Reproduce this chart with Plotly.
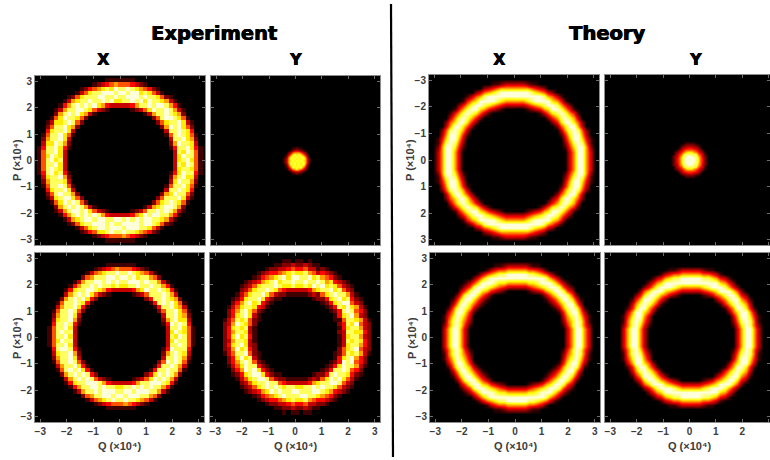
import numpy as np
import plotly.graph_objects as go

# Intensity levels 0-9, cell by cell.
# Ring panels: rows run top to bottom, "start:digits|start:digits" = left half | right half,
# each half listed outward from the centre, starting at cell |i| = start.
exp_x_top = [
"0:1111|0:1111","0:5654321|0:5554321","0:8978765421|0:8898765421","0:98999887531|0:99899787531",
"0:8988998887521|0:8899989887521","0:87989889887631|0:78898979887631","0:333467989898641|0:333468898998641",
"3:1235789988631|3:1235798898631","6:1367989862|6:1368898762","8:257889751|8:258998751",
"9:258987731|9:257889731","10:26798852|10:26989752","11:3798874|11:3889874","11:15798851|11:15898751",
"12:3798862|12:3889762","12:2689773|12:2698873","12:14798841|12:14889741","13:3798851|13:3879851",
"13:3789751|13:3798851","13:3879851|13:3789751","13:3798851|13:3879851","13:3789851|13:3788751",
"12:14879841|12:14798841","12:2698873|12:2689773","12:3788862|12:3798862","11:15898851|11:15889751",
"11:3798874|11:3889874","10:26889852|10:26798852","9:257998731|9:258889731","8:258989751|8:257898751",
"6:1368989862|6:1367899862","3:1235798998631|3:1235889898631","0:333468989898641|0:333467989988641",
"0:89889989987631|0:98989899887631","0:9898999887521|0:8999989987521","0:99989987531|0:98999887531",
"0:8898775421|0:8988765421","0:5554321|0:5654321","0:1111|0:1111",
]
exp_x_bottom = [
"0:1111|0:1111","0:5654321|0:5554321","0:898876531|0:889876531","0:9899888652|0:9989788652",
"0:898989988631|0:889998988631","0:7878898988641|0:7788988988641","0:33346789988741|0:33346798898741",
"3:12357989863|3:12358889863","6:247989862|6:248898762","7:147898851|7:148989751","8:14798863|8:14889763",
"9:25898851|9:25889751","10:3798862|10:3889762","10:2698873|10:2689773","10:1489884|10:1498984",
"11:3798851|11:3889751","11:3889851|11:3798751","11:3798851|11:3879851","11:3889751|11:3798851",
"11:3798851|11:3889851","10:1489984|10:1498884","10:2698873|10:2689873","10:3798862|10:3889862",
"9:25898851|9:25989851","8:14798863|8:14889863","7:147989851|7:148898851","6:248989862|6:247989862",
"3:12358989863|3:12357989863","0:33346899988741|0:33346889998741","0:8788989988641|0:7889898988641",
"0:989998988631|0:899899988631","0:9989988652|0:9899988652","0:889876531|0:898876531",
"0:5554321|0:5654321","0:1111|0:1111",
]
exp_y_bottom = [
"0:1011|0:1101","0:232211|0:223211","0:45433221|0:44533121","0:7876544321|0:7786534321",
"0:89798765421|0:98897865421","0:8988798764321|0:8898898674321","0:78778988875321|0:77879897875321",
"0:33345789887532|0:33346788978532","0:111223579887531|0:111232578988631","4:112479887421|4:122478978421",
"6:1248798642|6:1247899532","7:1347887531|7:1248797631","8:125798642|8:124898542","9:13798742|9:14789632",
"9:125878531|9:115887631","10:25789632|10:24879532","10:13878742|10:14788632","10:13788642|10:23887742",
"10:14879742|10:13788632","10:13788632|10:13878742","10:23798742|10:13788642","10:24879632|10:25789532",
"9:125988531|9:125878631","9:13879742|9:14789642","8:125898642|8:124989542","7:1248897531|7:1247988631",
"6:1247989642|6:1248898542","4:112479987421|4:122489887421","0:111223589987531|0:111232579897531",
"0:33345889887532|0:33346788998532","0:78878989875321|0:77889898875321","0:8988989764321|0:9888998764321",
"0:98898765421|0:89988765421","0:7876544321|0:7786544321","0:45433221|0:44533221","0:232211|0:223211",
"0:1101|0:1011",
]
# Small measured spot, rows centred on the spot.
exp_y_top = [
"11211","1233321","235666532","13578787531","25787878752","1368787878631","1367878787631",
"1368787878631","25878787852","13587878531","235676532","1233321","11211",
]
# Theory panels are symmetric: one quadrant, from the centre outward.
th_x_top = [
"0000000000000369963","0000000000000369963","0000000000000369963","0000000000001479962",
"0000000000002589851","0000000000003699741","000000000001479963","000000000003689852",
"00000000002579963","00000000024799752","0000000024689863","0000001357898641","000123467998641",
"33345678998642","6667899997641","999999986531","9999876532","66665432","333211","","",
]
th_x_bottom = [
"000000000000369963","000000000000369963","000000000000369963","000000000001479852",
"000000000002579851","000000000003689741","00000000001479963","00000000013689851",
"0000000013579963","0000000135799741","000000135799852","00012346799853","33345678998531",
"6667789997531","99999998642","9998876531","66655431","333211","","","",
]
th_y_bottom = [
"00000000000369963","00000000000369963","00000000000369963","00000000001479852",
"00000000002589851","00000000003699741","0000000002579963","0000000014699741",
"000000014689863","000000246899641","00012356899742","3334567999752","666789998642",
"99999997642","9998876431","66655431","333211","","","","",
]
th_y_top = [
"999875421","999875421","998865321","888754310","77654321","55543210","4433210","222110","1110","","",
]

cell_size = [0.16,0.08,0.16,0.16,0.16,0.08,0.16,0.16]
centre_q = [0.0,0.04,0.07,0.08,0.0,0.0,0.05,0.05]
centre_p = [0.0,0.0,0.03,0.03,0.0,0.0,0.0,0.0]
# Pixel boxes of the panels: left, right, top, bottom
boxes = [(35,205,76,245),(211,380,76,245),(35,204,253,422),(210,380,253,422),
         (429,599,75,245),(605,770,75,245),(430,600,253,422),(605,770,253,422)]
q_ranges = [(-3.2,3.2)]*5+[(-3.2,3.05)]+[(-3.2,3.2)]+[(-3.2,3.05)]
p_ranges = [(-3.2,3.2)]*4+[(3.2,-3.2),(3.2,-3.2)]+[(-3.2,3.2)]*2
show_q = [0,0,1,1,0,0,1,1]
show_p = [1,0,1,0,1,0,1,0]
smooth = [False,"best",False,False,"best","best","best","best"]
tick_vals = [-3,-2,-1,0,1,2,3]
W, H = 770, 460
LEVEL_TOP = 9.3
hot = [[0,"#000000"],[0.42,"#ff0000"],[0.78,"#ffff00"],[1,"#ffffff"]]
FONT = "Liberation Sans"
TICK = "#3c3c3c"

def ring_grid(rows, half=20):
    n = 2*half+1
    z = np.zeros((n,n))
    off = (len(rows)-1)//2
    for k,row in enumerate(rows):
        j = off-k
        left,right = row.split("|")
        for part,sign in ((left,-1),(right,1)):
            s,d = part.split(":")
            for m,ch in enumerate(d):
                z[half+j, half+sign*(int(s)+m)] = int(ch)
    return z

def quad_grid(rows):
    half = len(rows)-1
    q = np.zeros((half+1,half+1))
    for j,row in enumerate(rows):
        for i,ch in enumerate(row):
            q[j,i] = int(ch)
    top = np.hstack([q[:,:0:-1],q])
    return np.vstack([top[:0:-1],top])

def spot_grid(rows, half=10):
    n = 2*half+1
    z = np.zeros((n,n))
    off = (len(rows)-1)//2
    for k,row in enumerate(rows):
        j = off-k
        w = (len(row)-1)//2
        for m,ch in enumerate(row):
            z[half+j, half-w+m] = int(ch)
    return z

grids = [ring_grid(exp_x_top),spot_grid(exp_y_top),ring_grid(exp_x_bottom),ring_grid(exp_y_bottom),
         quad_grid(th_x_top),quad_grid(th_y_top),quad_grid(th_x_bottom),quad_grid(th_y_bottom)]

fig = go.Figure()
layout = dict(width=W,height=H,margin=dict(l=0,r=0,t=0,b=0),autosize=False,
              paper_bgcolor="white",plot_bgcolor="black",showlegend=False,font=dict(family=FONT))
for k,z in enumerate(grids):
    half = (z.shape[0]-1)//2
    idx = np.arange(-half,half+1)
    sfx = "" if k==0 else str(k+1)
    fig.add_trace(go.Heatmap(z=z,x=centre_q[k]+cell_size[k]*idx,y=centre_p[k]+cell_size[k]*idx,
                             zmin=0,zmax=LEVEL_TOP,colorscale=hot,showscale=False,zsmooth=smooth[k],
                             xaxis="x"+sfx,yaxis="y"+sfx,hoverinfo="skip"))
    l,r,t,b = boxes[k]
    common = dict(tickmode="array",tickvals=tick_vals,ticks="inside",ticklen=3,tickcolor="#6e6e6e",tickwidth=1,
                  showgrid=False,zeroline=False,showline=True,linecolor="#8c8c8c",linewidth=1,mirror="ticks",
                  tickfont=dict(family=FONT,size=10,color=TICK,weight="bold"))
    layout["xaxis"+sfx] = dict(domain=[l/W,r/W],range=list(q_ranges[k]),anchor="y"+sfx,
                               showticklabels=bool(show_q[k]),**common)
    layout["yaxis"+sfx] = dict(domain=[1-b/H,1-t/H],range=list(p_ranges[k]),anchor="x"+sfx,
                               showticklabels=bool(show_p[k]),**common)
fig.update_layout(**layout)

def text(x,y,s,size,angle=0,bold=True,color="black",family=FONT,shadow=None):
    font = dict(family=family,size=size,color=color,weight="bold" if bold else "normal")
    if shadow:
        font["shadow"] = shadow
    fig.add_annotation(x=x/W,y=1-y/H,xref="paper",yref="paper",text=s,showarrow=False,textangle=angle,
                       xanchor="center",yanchor="middle",font=font)

HEAVY = "DejaVu Sans"
THICK = "0.6px 0 0 black, -0.3px 0 0 black"
text(214,33,"Experiment",19.5,family=HEAVY,shadow=THICK)
text(607,33,"Theory",19.5,family=HEAVY,shadow=THICK)
for x,s in [(104,"X"),(295,"Y"),(499,"X"),(695,"Y")]:
    text(x,59,s,16,family=HEAVY,shadow=THICK)
P_LABEL = "P (×10⁴)"
Q_LABEL = "Q (×10⁴)"
for x,y in [(17,160),(17,338),(410,160),(412,338)]:
    text(x,y,P_LABEL,11,angle=-90,color=TICK)
for x in [119,295,515,689]:
    text(x,446,Q_LABEL,11,color=TICK)
fig.add_shape(type="line",xref="paper",yref="paper",x0=391/W,x1=393/W,y0=1-4/H,y1=1-457/H,
              line=dict(color="black",width=2.2))

fig.write_html("out.html",config=dict(displayModeBar=False),
               post_script="document.body.style.margin='0';document.body.style.overflow='hidden';")
